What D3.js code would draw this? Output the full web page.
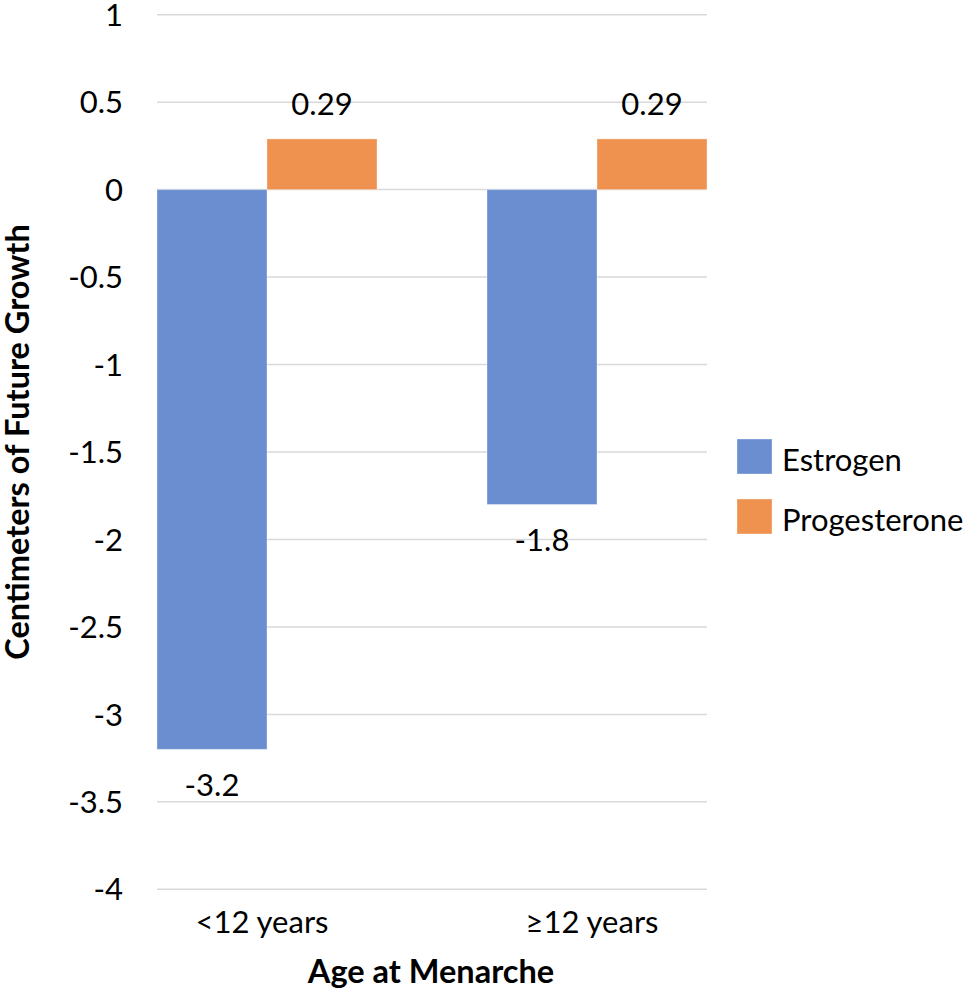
<!DOCTYPE html>
<html>
<head>
<meta charset="utf-8">
<script src="https://cdn.jsdelivr.net/npm/d3@7"></script>
<style>
  body { margin: 0; background: #fff; }
  text { font-family: Lato, "Open Sans", sans-serif; fill: #000; }
</style>
</head>
<body>
<div id="chart"></div>
<script>
let categories = ["<12 years", "\u226512 years"];
let series_names = ["Estrogen", "Progesterone"];
let estrogen = [-3.2, -1.8];
let progesterone = [0.29, 0.29];
let y_ticks = [1, 0.5, 0, -0.5, -1, -1.5, -2, -2.5, -3, -3.5, -4];
let colors = ["#6A8ED0", "#F0924F"];

let chart_width = 974;
let chart_height = 1006;

let svg = d3
  .select("#chart")
  .append("svg")
  .attr("width", chart_width)
  .attr("height", chart_height);

//scales
let x_scale = d3
  .scaleBand()
  .domain(categories)
  .range([157, 707])
  .paddingInner(1 / 3)
  .paddingOuter(0);

let x_inner = d3
  .scaleBand()
  .domain(series_names)
  .range([0, x_scale.bandwidth()]);

let y_scale = d3.scaleLinear().domain([-4, 1]).range([889.3, 14.7]);

//gridlines
svg
  .append("g")
  .selectAll("line")
  .data(y_ticks)
  .enter()
  .append("line")
  .attr("x1", 157)
  .attr("x2", 707)
  .attr("y1", (d) => y_scale(d))
  .attr("y2", (d) => y_scale(d))
  .attr("stroke", "#d9d9d9")
  .attr("stroke-width", 1.5);

//y tick labels
svg
  .append("g")
  .selectAll("text")
  .data(y_ticks)
  .enter()
  .append("text")
  .attr("x", 123)
  .attr("y", (d) => y_scale(d))
  .attr("dy", "0.36em")
  .attr("text-anchor", "end")
  .style("font-size", "31px")
  .text((d) => d);

//one row per bar
let rows = [];
categories.forEach(function (c, i) {
  rows.push({ cat: c, name: series_names[0], value: estrogen[i] });
  rows.push({ cat: c, name: series_names[1], value: progesterone[i] });
});

let color = d3.scaleOrdinal().domain(series_names).range(colors);

svg
  .append("g")
  .selectAll("rect")
  .data(rows)
  .enter()
  .append("rect")
  .attr("x", (d) => x_scale(d.cat) + x_inner(d.name))
  .attr("y", (d) => y_scale(Math.max(0, d.value)))
  .attr("width", x_inner.bandwidth())
  .attr("height", (d) => Math.abs(y_scale(d.value) - y_scale(0)))
  .attr("fill", (d) => color(d.name))
  .attr("stroke", "rgba(255,255,255,0.35)")
  .attr("stroke-width", 1);

//value labels (above positive bars, below negative ones)
svg
  .append("g")
  .selectAll("text")
  .data(rows)
  .enter()
  .append("text")
  .attr("x", (d) => x_scale(d.cat) + x_inner(d.name) + x_inner.bandwidth() / 2)
  .attr("y", (d) => (d.value >= 0 ? y_scale(d.value) - 24 : y_scale(d.value) + 47))
  .attr("text-anchor", "middle")
  .style("font-size", "31px")
  .text((d) => d.value);

//category labels
svg
  .append("g")
  .selectAll("text")
  .data(categories)
  .enter()
  .append("text")
  .attr("x", (d) => x_scale(d) + x_scale.bandwidth() / 2 - 5)
  .attr("y", 933)
  .attr("text-anchor", "middle")
  .style("font-size", "31px")
  .text((d) => d);

//axis titles
svg
  .append("text")
  .attr("x", 431)
  .attr("y", 983)
  .attr("text-anchor", "middle")
  .style("font-size", "32.5px")
  .style("font-weight", "bold")
  .text("Age at Menarche");

svg
  .append("text")
  .attr("transform", "translate(29,442) rotate(-90)")
  .attr("text-anchor", "middle")
  .style("font-size", "32.5px")
  .style("font-weight", "bold")
  .text("Centimeters of Future Growth");

//legend
let legend = svg
  .append("g")
  .selectAll("g")
  .data(series_names)
  .enter()
  .append("g")
  .attr("transform", (d, i) => "translate(737," + (439 + i * 60) + ")");

legend
  .append("rect")
  .attr("width", 35)
  .attr("height", 35)
  .attr("fill", (d) => color(d))
  .attr("stroke", "rgba(255,255,255,0.35)");

legend
  .append("text")
  .attr("x", 45)
  .attr("y", 32)
  .style("font-size", "31px")
  .text((d) => d);
</script>
</body>
</html>
